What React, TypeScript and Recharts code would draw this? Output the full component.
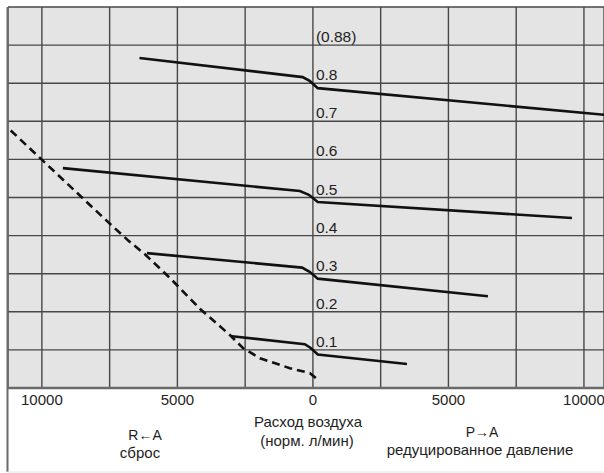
import React from 'react';
import { LineChart, Line, XAxis, YAxis, CartesianGrid, ReferenceDot } from 'recharts';

// Axis ticks
const xGridTicks = [-10000, -7500, -5000, -2500, 0, 2500, 5000, 7500, 10000];
const xLabelTicks = [-10000, -5000, 0, 5000, 10000];
const yGridTicks = [0.1, 0.2, 0.3, 0.4, 0.5, 0.6, 0.7, 0.8, 0.9, 1.0];
const xDomain: [number, number] = [-11250, 10740];
const yDomain: [number, number] = [0, 1];

// Pressure labels along the zero-flow line
const pressureLabelValues = [0.9, 0.8, 0.7, 0.6, 0.5, 0.4, 0.3, 0.2, 0.1];
const pressureLabelTexts = ['(0.88)', '0.8', '0.7', '0.6', '0.5', '0.4', '0.3', '0.2', '0.1'];

// Curves: flow (norm. l/min; negative = R←A exhaust) vs pressure (MPa)
const curve08 = [
  { x: -6400, y: 0.866 },
  { x: -380, y: 0.816 },
  { x: -120, y: 0.806 },
  { x: 180, y: 0.787 },
  { x: 10740, y: 0.717 },
];
const curve05 = [
  { x: -9225, y: 0.577 },
  { x: -480, y: 0.517 },
  { x: -150, y: 0.507 },
  { x: 180, y: 0.488 },
  { x: 9557, y: 0.446 },
];
const curve03 = [
  { x: -6125, y: 0.354 },
  { x: -400, y: 0.316 },
  { x: -120, y: 0.305 },
  { x: 180, y: 0.287 },
  { x: 6458, y: 0.241 },
];
const curve01 = [
  { x: -2989, y: 0.136 },
  { x: -300, y: 0.115 },
  { x: -80, y: 0.105 },
  { x: 180, y: 0.088 },
  { x: 3470, y: 0.063 },
];
const exhaustLimit = [
  { x: -11150, y: 0.676 },
  { x: -10074, y: 0.604 },
  { x: -7565, y: 0.436 },
  { x: -6826, y: 0.388 },
  { x: -6199, y: 0.351 },
  { x: -5277, y: 0.289 },
  { x: -4170, y: 0.208 },
  { x: -3063, y: 0.139 },
  { x: -2583, y: 0.105 },
  { x: -1950, y: 0.078 },
  { x: -850, y: 0.052 },
  { x: -110, y: 0.039 },
  { x: 250, y: 0.018 },
];

const FONT = '"Liberation Sans", Arial, Helvetica, sans-serif';

const PressureLabel = (props: any) => {
  const vb = props.viewBox || {};
  return (
    <text x={vb.x + 3} y={vb.y - 3} fontSize={15.5} fontFamily={FONT} fill="#1e1e1e" textAnchor="start">
      {props.text}
    </text>
  );
};

export default function App() {
  const W = 604;
  const H = 473;
  return (
    <div style={{ position: 'absolute', left: 0, top: 0, width: W, height: H, background: '#fff' }}>
      <LineChart width={W} height={H} margin={{ top: 7, right: 0, left: 8, bottom: 55 }}>
        <CartesianGrid stroke="#474747" strokeWidth={1.4} fill="#e4e4e4" fillOpacity={1} />
        <XAxis
          dataKey="x"
          type="number"
          domain={xDomain}
          allowDataOverflow
          ticks={xGridTicks}
          interval={0}
          tickFormatter={(v: number) => (xLabelTicks.includes(v) ? String(Math.abs(v)) : '')}
          tickLine={false}
          tickSize={6}
          tickMargin={0}
          height={30}
          axisLine={{ stroke: '#6a6a6a', strokeWidth: 2.5 }}
          tick={{ fill: '#1e1e1e', fontSize: 15, fontFamily: FONT }}
        />
        <YAxis type="number" domain={yDomain} ticks={yGridTicks} allowDataOverflow hide />
        <Line data={exhaustLimit} dataKey="y" type="linear" stroke="#111" strokeWidth={2.6} strokeDasharray="8 5" dot={false} activeDot={false} isAnimationActive={false} />
        <Line data={curve08} dataKey="y" type="linear" stroke="#111" strokeWidth={2.6} dot={false} activeDot={false} isAnimationActive={false} />
        <Line data={curve05} dataKey="y" type="linear" stroke="#111" strokeWidth={2.6} dot={false} activeDot={false} isAnimationActive={false} />
        <Line data={curve03} dataKey="y" type="linear" stroke="#111" strokeWidth={2.6} dot={false} activeDot={false} isAnimationActive={false} />
        <Line data={curve01} dataKey="y" type="linear" stroke="#111" strokeWidth={2.6} dot={false} activeDot={false} isAnimationActive={false} />
        {pressureLabelValues.map((v, i) => (
          <ReferenceDot
            key={'pl' + i}
            x={0}
            y={v}
            r={0}
            fill="none"
            stroke="none"
            ifOverflow="visible"
            label={<PressureLabel text={pressureLabelTexts[i]} />}
          />
        ))}
      </LineChart>
      <svg
        width={W}
        height={H}
        style={{ position: 'absolute', left: 0, top: 0, pointerEvents: 'none' }}
      >
        <line x1={7.5} y1={7} x2={7.5} y2={472} stroke="#6a6a6a" strokeWidth={2} />
        <line x1={7} y1={472} x2={604} y2={472} stroke="#e2e2e2" strokeWidth={1} />
        <g fontFamily={FONT} fontSize={15} fill="#1e1e1e" textAnchor="middle">
          <text x={308} y={427}>Расход воздуха</text>
          <text x={307} y={446}>(норм. л/мин)</text>
          <text x={145} y={440} fontSize={14}>R←A</text>
          <text x={140} y={458}>сброс</text>
          <text x={482} y={437} fontSize={14}>P→A</text>
          <text x={480} y={455}>редуцированное давление</text>
        </g>
      </svg>
    </div>
  );
}
